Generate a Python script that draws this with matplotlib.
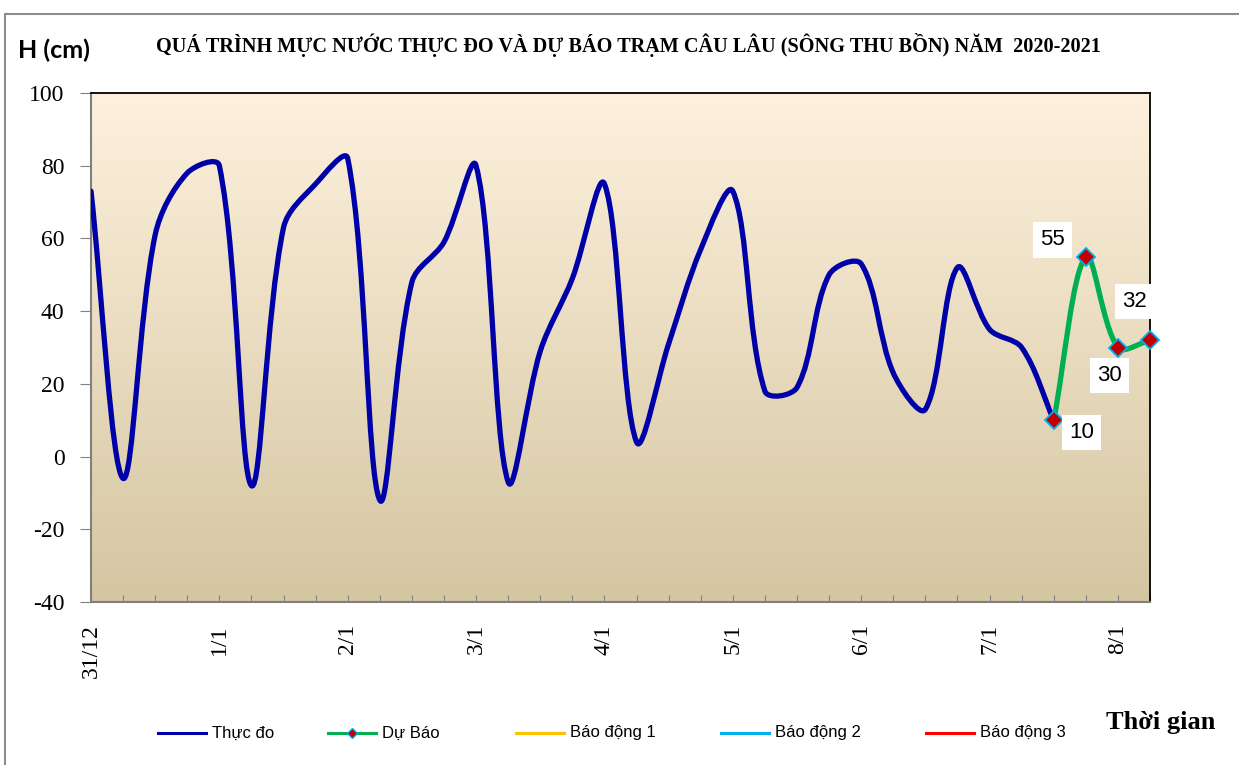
import numpy as np
import matplotlib
matplotlib.use("Agg")
import matplotlib.pyplot as plt
from matplotlib.path import Path
from matplotlib.patches import PathPatch, Rectangle
from matplotlib.lines import Line2D

plt.rcParams["font.family"] = ["Liberation Serif", "DejaVu Serif"]

# ---------------- data ----------------
observed = [73, -6, 61, 78, 80, -8, 63, 75, 82, -12, 48, 59, 80, -7, 29, 49, 75,
            4, 31, 57, 73, 18, 19, 50, 53, 23, 13, 52, 35, 30, 10]
forecast_idx = [30, 31, 32, 33]
forecast = [10, 55, 30, 32]
n_categories = 34
tick_labels = ["31/12", "1/1", "2/1", "3/1", "4/1", "5/1", "6/1", "7/1", "8/1"]
label_every = 4
alarm_levels = [200, 300, 400]   # out of displayed range
alarm_names = ["Báo động 1", "Báo động 2", "Báo động 3"]
alarm_colors = ["#FFC000", "#00B0F0", "#FF0000"]
yticks = [-40, -20, 0, 20, 40, 60, 80, 100]

title = "QUÁ TRÌNH MỰC NƯỚC THỰC ĐO VÀ DỰ BÁO TRẠM CÂU LÂU (SÔNG THU BỒN) NĂM  2020-2021"

W, H = 1239, 765
fig = plt.figure(figsize=(W / 100, H / 100), dpi=100)
fig.patch.set_facecolor("white")

left, right, top, bottom = 91 / W, 1150 / W, 1 - 93 / H, 1 - 602 / H
ax = fig.add_axes([left, bottom, right - left, top - bottom])
ax.set_xlim(0, n_categories - 1)
ax.set_ylim(-40, 100)

# gradient background
grad = np.linspace(0, 1, 256).reshape(-1, 1)
c_top = np.array([253, 241, 221]) / 255
c_bot = np.array([212, 198, 161]) / 255
img = c_top[None, None, :] * (1 - grad[:, :, None]) + c_bot[None, None, :] * grad[:, :, None]
ax.imshow(img, extent=[0, 1, 0, 1], transform=ax.transAxes, aspect="auto", zorder=0)
ax.set_xlim(0, n_categories - 1)
ax.set_ylim(-40, 100)


def smooth_path(xs, ys):
    """Excel-like smoothing: Bezier with chord-length weighted tangents (screen space)."""
    data = np.column_stack([np.asarray(xs, float), np.asarray(ys, float)])
    pts = ax.transData.transform(data)
    n = len(pts)
    d = np.linalg.norm(np.diff(pts, axis=0), axis=1)
    verts = [pts[0]]
    codes = [Path.MOVETO]
    f = 1.0 / 3.0
    for i in range(n - 1):
        p1, p2 = pts[i], pts[i + 1]
        if i > 0:
            t1 = pts[i + 1] - pts[i - 1]
            c1 = p1 + t1 * f * d[i] / (d[i - 1] + d[i])
        else:
            c1 = p1 + (p2 - p1) / 3.0
        if i + 2 < n:
            t2 = pts[i + 2] - pts[i]
            c2 = p2 - t2 * f * d[i] / (d[i] + d[i + 1])
        else:
            c2 = p2 - (p2 - p1) / 3.0
        verts += [c1, c2, p2]
        codes += [Path.CURVE4] * 3
    verts = ax.transData.inverted().transform(np.array(verts))
    return Path(verts, codes)


obs_x = np.arange(len(observed))
ax.add_patch(PathPatch(smooth_path(obs_x, observed), facecolor="none",
                       edgecolor="#0000A8", lw=3.8, capstyle="round",
                       joinstyle="round", zorder=3))
ax.add_patch(PathPatch(smooth_path(forecast_idx, forecast), facecolor="none",
                       edgecolor="#00B050", lw=3.8, capstyle="round",
                       joinstyle="round", zorder=4))
ax.plot(forecast_idx, forecast, ls="none", marker="D", ms=9.5,
        mfc="#C00000", mec="#00B0F0", mew=1.3, zorder=5, clip_on=False)
for lvl, c in zip(alarm_levels, alarm_colors):
    ax.axhline(lvl, color=c, lw=2.5)

# data labels
offsets = [(20, -9), (-24, 12), (-6, -20), (-11, 28)]
for xi, yi, off in zip(forecast_idx, forecast, offsets):
    ax.annotate(str(yi), (xi, yi), xytext=off, textcoords="offset points",
                ha="center", va="center", fontsize=16, family="Liberation Sans",
                bbox=dict(boxstyle="square,pad=0.32", fc="white", ec="none"),
                zorder=6, annotation_clip=False)

ax.set_yticks(yticks)
ax.set_yticklabels([str(v) for v in yticks])
ax.set_xticks(np.arange(n_categories))
xl = ["" for _ in range(n_categories)]
for k, lab in enumerate(tick_labels):
    xl[k * label_every] = lab
ax.set_xticklabels(xl, rotation=90, va="top")
for lab in ax.get_xticklabels() + ax.get_yticklabels():
    lab.set_fontfamily("Liberation Serif")
    lab.set_fontsize(17)
ax.tick_params(axis="x", direction="in", length=5, color="#808080", pad=16)
ax.tick_params(axis="y", direction="out", length=8, color="#808080", pad=11)
for s in ["left", "bottom"]:
    ax.spines[s].set_color("#808080")
    ax.spines[s].set_linewidth(1.5)
for s in ["top", "right"]:
    ax.spines[s].set_color("black")
    ax.spines[s].set_linewidth(1.3)

# outer frame
fig.add_artist(Rectangle((5 / W, -0.1), 1.2, 1 - 14 / H + 0.1, transform=fig.transFigure,
                         fill=False, ec="#8C8C8C", lw=1.5))

# texts
fig.text(628 / W, 1 - 45 / H, title, ha="center", va="center", fontsize=14.6,
         family="Liberation Serif", fontweight="bold")
fig.text(18 / W, 1 - 50 / H, "H (cm)", ha="left", va="center", fontsize=18,
         family="Lato", fontweight="bold")
fig.text(1106 / W, 1 - 723 / H, "Thời gian", ha="left", va="center", fontsize=19,
         family="Liberation Serif", fontweight="bold")

# legend (manual)
leg_names = ["Thực đo", "Dự Báo"] + alarm_names
leg_colors = ["#0000A8", "#00B050"] + alarm_colors
leg_start = [158, 328, 516, 721, 926]
ly = 1 - 733 / H
for name, c, x0 in zip(leg_names, leg_colors, leg_start):
    fig.add_artist(Line2D([x0 / W, (x0 + 48) / W], [ly, ly], color=c, lw=2.2,
                          transform=fig.transFigure))
    if name == "Dự Báo":
        fig.add_artist(Line2D([(x0 + 24) / W], [ly], marker="D", ms=5, mfc="#C00000",
                              mec="#00B0F0", mew=1, transform=fig.transFigure))
    fig.text((x0 + 54) / W, ly, name, ha="left", va="center", fontsize=12,
             family="Liberation Sans")

fig.savefig("out.png", dpi=100)
